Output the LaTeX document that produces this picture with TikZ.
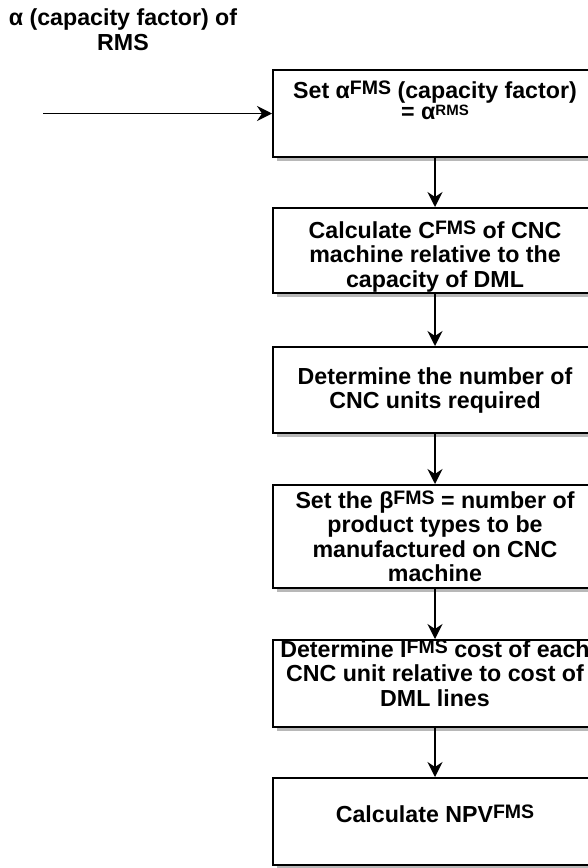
\documentclass[tikz,border=0pt]{standalone}
\usepackage{fontspec}
\setmainfont{Liberation Sans}
\usetikzlibrary{arrows.meta,shadows}
\newcommand\supx[1]{\smash{\raisebox{4pt}{\fontsize{19.5}{19.5}\selectfont #1}}}
\newcommand\supy[1]{\smash{\raisebox{4pt}{\fontsize{15}{15}\selectfont #1}}}
\begin{document}
\begin{tikzpicture}[x=1pt,y=-1pt,
  every node/.style={font=\fontsize{23.2}{24.5}\selectfont\bfseries, inner sep=0pt},
  box/.style={draw=black, line width=2pt, fill=white, minimum width=324pt,
    drop shadow={shadow xshift=3.5pt, shadow yshift=-3.5pt, fill=black!28, opacity=1}},
  txt/.style={align=center, anchor=north},
  arr/.style={line width=1.8pt, -{Stealth[length=15pt,width=15pt,inset=5pt]}}]
\useasboundingbox (0,0) rectangle (588,868);
\clip (0,0) rectangle (588,868);

\node[txt, font=\fontsize{23.2}{23}\selectfont\bfseries] (title) at (123,8.9)
  {\strut α (capacity factor) of\\\strut RMS};

\node[box, minimum height=87pt] (b1) at (435,113.5) {};
\node[anchor=base] (t1a) at (435,98) {Set α\supx{FMS} (capacity factor)};
\node[anchor=base] (t1b) at (435,119.5) {= α\supy{RMS}};

\node[box, minimum height=85pt] (b2) at (435,250.5) {};
\node[txt] (t2) at (435,220.85)
  {\strut Calculate C\supx{FMS} of CNC\\\strut machine relative to the\\\strut capacity of DML};

\node[box, minimum height=86pt] (b3) at (435,390) {};
\node[txt] (t3) at (435,366.85)
  {\strut Determine the number of\\\strut CNC units required};

\node[box, minimum height=103pt] (b4) at (435,536.5) {};
\node[txt] (t4) at (435,490.85)
  {\strut Set the β\supx{FMS} = number of\\\strut product types to be\\\strut manufactured on CNC\\\strut machine};

\node[box, minimum height=87pt] (b5) at (435,683.5) {};
\node[txt] (t5) at (435,639.85)
  {\strut Determine I\supx{FMS} cost of each\\\strut CNC unit relative to cost of\\\strut DML lines};

\node[box, minimum height=87pt] (b6) at (435,821.5) {};
\node[txt] (t6) at (435,804.85) {\strut Calculate NPV\supx{FMS}};

\coordinate (src) at (43,113.5);
\draw[arr] (src) -- (b1.west);
\draw[arr] (b1.south) -- (b2.north);
\draw[arr] (b2.south) -- (b3.north);
\draw[arr] (b3.south) -- (b4.north);
\draw[arr] (b4.south) -- (b5.north);
\draw[arr] (b5.south) -- (b6.north);
\end{tikzpicture}
\end{document}
